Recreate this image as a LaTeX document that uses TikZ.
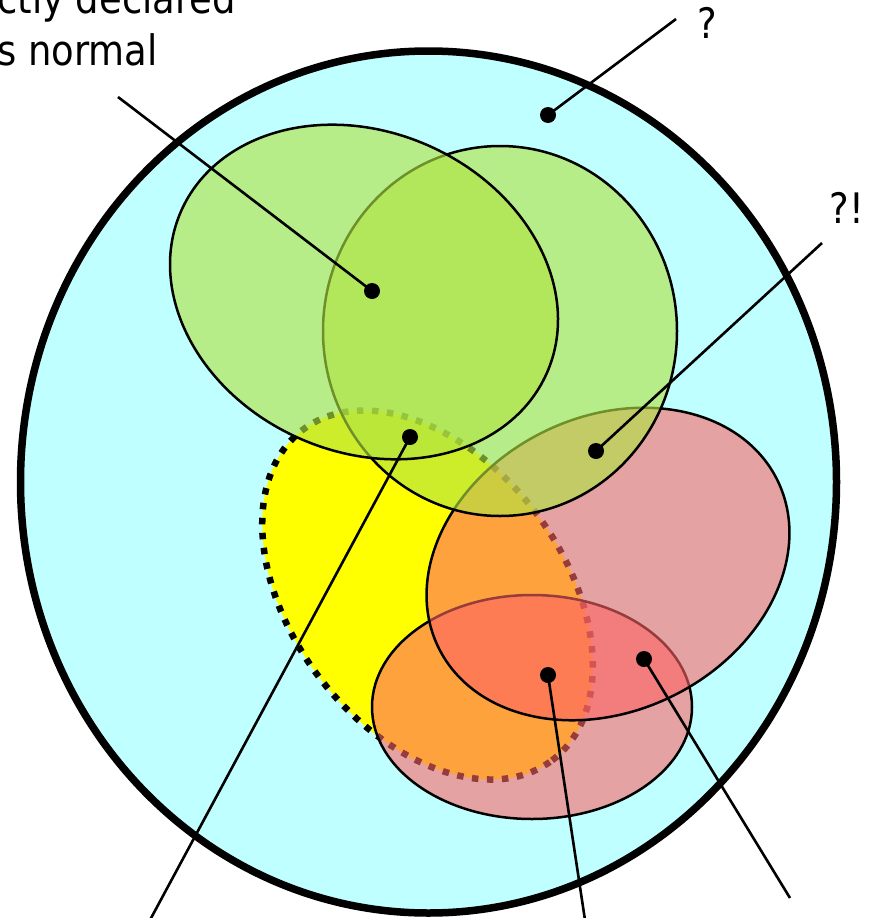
\documentclass[tikz,border=0pt]{standalone}
\usepackage{fontspec}
\setmainfont{DejaVu Sans}[FakeStretch=0.88]
\definecolor{bgcyan}{RGB}{192,255,255}
\definecolor{setgreen}{RGB}{177,228,67}
\definecolor{setpink}{RGB}{253,100,100}
\definecolor{setyellow}{RGB}{255,255,0}
\tikzset{
  outerset/.style={draw=black, line width=7.5pt, fill=bgcyan},
  yellowset/.style={draw=black, line width=6.5pt, dash pattern=on 6.5pt off 8.5pt, fill=setyellow},
  greenset/.style={draw=black, line width=2.5pt, fill=setgreen, fill opacity=0.63},
  pinkset/.style={draw=black, line width=2.5pt, fill=setpink, fill opacity=0.6},
  pin/.style={circle, fill=black, inner sep=0pt, minimum size=16pt},
  leader/.style={draw=black, line width=2.6pt},
  lbl/.style={font=\fontsize{42}{52}\selectfont, inner sep=0pt}
}
\begin{document}
\begin{tikzpicture}[x=1pt, y=-1pt]
\useasboundingbox (0,0) rectangle (882,918);
\clip (0,0) rectangle (882,918);
% universe
\path[outerset] (428.5,482) ellipse [x radius=408pt, y radius=431pt];
% yellow dotted set
\path[yellowset, shift={(427.5,595)}, rotate=-53] (0,0) ellipse [x radius=207pt, y radius=136pt];
% small pink
\path[pinkset] (532,707) ellipse [x radius=160pt, y radius=112pt];
% big pink
\path[pinkset, shift={(608,564)}, rotate=26.5] (0,0) ellipse [x radius=189pt, y radius=147pt];
% right green
\path[greenset] (500,331) ellipse [x radius=177pt, y radius=185pt];
% left green
\path[greenset, shift={(364,292)}, rotate=-24] (0,0) ellipse [x radius=200pt, y radius=160pt];

% labels
\node[lbl, anchor=base west] (la) at (-3,13) {ctly declared};
\node[lbl, anchor=base west] (lb) at (-3,65) {s normal};
\node[lbl] (q) at (707,23) {?};
\node[lbl] (qe) at (847,208) {?!};

% pins
\node[pin] (p1) at (372,291) {};
\node[pin] (p2) at (548,115) {};
\node[pin] (p3) at (596,451) {};
\node[pin] (p4) at (410,437) {};
\node[pin] (p5) at (548,675) {};
\node[pin] (p6) at (644,659) {};

% leader ends
\coordinate (e1) at (118,97);
\coordinate (e2) at (676,19);
\coordinate (e3) at (822,243);
\coordinate (e4) at (150,920);
\coordinate (e5) at (585,920);
\coordinate (e6) at (790,898);

\draw[leader] (e1) -- (p1.center);
\draw[leader] (e2) -- (p2.center);
\draw[leader] (e3) -- (p3.center);
\draw[leader] (e4) -- (p4.center);
\draw[leader] (e5) -- (p5.center);
\draw[leader] (e6) -- (p6.center);
\end{tikzpicture}
\end{document}
